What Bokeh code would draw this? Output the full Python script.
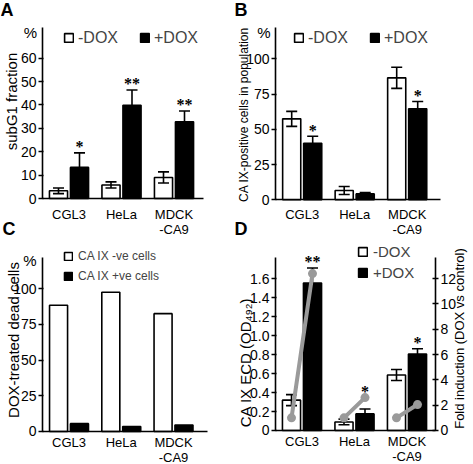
import math
from bokeh.plotting import figure
from bokeh.models import (ColumnDataSource, Range1d, LinearAxis, FixedTicker, CustomJSTickFormatter,
                          Legend, LegendItem, Label)
from bokeh.layouts import column, row
from bokeh.transform import dodge
from bokeh.embed import file_html
from bokeh.resources import INLINE

FONT = "Liberation Sans"

# ---------------- data ----------------
cells = ["CGL3", "HeLa", "MDCK\n-CA9"]
cell_idx = [0, 1, 2]

# A: subG1 fraction (%)
a_minus = [3.3, 5.8, 9.0]
a_minus_err = [1.2, 1.3, 2.4]
a_plus = [13.3, 39.8, 32.8]
a_plus_err = [6.2, 6.6, 4.6]
a_sig = ["*", "**", "**"]
a_yticks = [0, 10, 20, 30, 40, 50, 60]

# B: CA IX-positive cells in population (%)
b_minus = [57.4, 6.6, 86.5]
b_minus_err = [5.3, 2.8, 7.5]
b_plus = [40.1, 4.2, 64.5]
b_plus_err = [5.0, 1.0, 5.2]
b_sig = ["*", "", "*"]
bc_yticks = [0, 25, 50, 75, 100]

# C: DOX-treated dead cells (%)
c_neg = [88.3, 97.4, 82.4]
c_pos = [5.5, 3.5, 4.5]

# D: CA IX ECD (OD492) and fold induction
d_minus = [0.32, 0.09, 0.585]
d_minus_err = [0.058, 0.03, 0.058]
d_plus = [1.555, 0.175, 0.805]
d_plus_err = [0.158, 0.052, 0.057]
d_ctrl_fold = [1.0, 1.0, 1.0]
d_fold = [12.4, 2.6, 2.05]
d_sig = ["**", "*", "*"]
d_left_ticks = [0, 0.2, 0.4, 0.6, 0.8, 1.0, 1.2, 1.4, 1.6]
d_right_ticks = [0, 2, 4, 6, 8, 10, 12]
FOLD_SCALE = 7.5  # right axis units per left axis unit

OFF = 0.2      # half distance between paired bars (category units)
BW = 0.345     # bar width
CAP = 0.105    # half width of error-bar caps
GRAY = "#9a9a9a"
LW = 1.6


def base_fig(W, H, xr, yr, yax_x, y_top, x_end, yticks, cat_standoff):
    p = figure(width=W, height=H, x_range=Range1d(*xr), y_range=Range1d(*yr),
               output_backend="svg", toolbar_location=None, tools="",
               min_border_left=0, min_border_right=0, min_border_top=0, min_border_bottom=0)
    p.grid.visible = False
    p.outline_line_color = None
    xa = p.xaxis[0]
    xa.fixed_location = 0
    xa.bounds = (yax_x, x_end)
    xa.ticker = FixedTicker(ticks=cell_idx)
    xa.formatter = CustomJSTickFormatter(args=dict(labels=cells), code="return labels[Math.round(tick)]")
    xa.major_tick_line_color = None
    xa.minor_tick_line_color = None
    xa.axis_line_width = LW
    xa.major_label_text_font = FONT
    xa.major_label_text_font_size = "13px"
    xa.major_label_text_line_height = 1.0
    xa.major_label_standoff = cat_standoff
    xa.major_label_text_color = "black"
    ya = p.yaxis[0]
    ya.fixed_location = yax_x
    ya.bounds = (0, y_top)
    ya.ticker = FixedTicker(ticks=yticks)
    ya.minor_tick_line_color = None
    ya.major_tick_out = 4
    ya.major_tick_in = 1
    ya.major_tick_line_width = 1.5
    ya.axis_line_width = LW
    ya.major_label_text_font = FONT
    ya.major_label_text_font_size = "14px"
    ya.major_label_standoff = 2
    ya.major_label_text_color = "black"
    return p


def add_text(p, cx, cy, text, size, angle=0.0, align="left", baseline="top", bold=False):
    p.add_layout(Label(x=cx, y=cy, x_units="canvas", y_units="canvas", text=text, angle=angle,
                       text_align=align, text_baseline=baseline, text_font=FONT,
                       text_font_size=f"{size}px", text_font_style="bold" if bold else "normal",
                       text_color="black"))


def add_legend(p, items, lx, ly, orientation, font_size, glyph, standoff, spacing, label_h):
    leg = Legend(items=[LegendItem(label=t, renderers=[r]) for t, r in items],
                 orientation=orientation, location=(lx, ly), padding=0, margin=0,
                 spacing=spacing, glyph_width=glyph, glyph_height=glyph,
                 label_standoff=standoff, label_height=label_h,
                 label_text_font=FONT, label_text_font_size=f"{font_size}px",
                 border_line_color=None, background_fill_alpha=0)
    p.add_layout(leg)


def error_bars(p, src, shift, lo, hi):
    p.segment(x0=dodge("idx", shift), y0=lo, x1=dodge("idx", shift), y1=hi, source=src,
              line_color="black", line_width=LW)
    for end in (lo, hi):
        p.segment(x0=dodge("idx", shift - CAP), y0=end, x1=dodge("idx", shift + CAP), y1=end,
                  source=src, line_color="black", line_width=LW)


def paired_bars(p, minus, minus_err, plus, plus_err):
    src = ColumnDataSource(dict(
        idx=cell_idx, minus=minus, plus=plus,
        m_lo=[v - e for v, e in zip(minus, minus_err)], m_hi=[v + e for v, e in zip(minus, minus_err)],
        p_lo=[v - e for v, e in zip(plus, plus_err)], p_hi=[v + e for v, e in zip(plus, plus_err)]))
    r1 = p.vbar(x=dodge("idx", -OFF), top="minus", width=BW, source=src,
                fill_color="white", line_color="black", line_width=LW)
    r2 = p.vbar(x=dodge("idx", OFF), top="plus", width=BW, source=src,
                fill_color="black", line_color="black", line_width=LW)
    error_bars(p, src, -OFF, "m_lo", "m_hi")
    error_bars(p, src, OFF, "p_lo", "p_hi")
    return r1, r2


def stars(p, ys, sig):
    s = ColumnDataSource(dict(idx=cell_idx, y=ys, sig=sig))
    p.text(x=dodge("idx", OFF), y="y", text="sig", source=s, text_align="center",
           text_baseline="middle", y_offset=-6, text_font=FONT, text_font_size="16px",
           text_font_style="bold", text_color="black")


# ---------------- Panel A (canvas 0..234 x 0..238) ----------------
pA = base_fig(234, 238, (-1.3048, 3.1524), (-17.09, 84.615), -0.5048, 73.1, 2.562, a_yticks, 2)
a1, a2 = paired_bars(pA, a_minus, a_minus_err, a_plus, a_plus_err)
stars(pA, [v + e for v, e in zip(a_plus, a_plus_err)], a_sig)
add_legend(pA, [("-DOX", a1), ("+DOX", a2)], 63, 190.5, "horizontal", 16, 11, 4, 21, 20)
add_text(pA, 30, 32, "%", 15, align="center", baseline="middle")
add_text(pA, 11, 101, "subG1 fraction", 15, angle=math.pi / 2, align="center", baseline="middle")
add_text(pA, 0, -1, "A", 18, bold=True)
add_text(pA, 2, 238, "C", 18, baseline="bottom", bold=True)

# ---------------- Panel B (canvas 234..473 x 0..238) ----------------
pB = base_fig(239, 238, (-1.2895, 3.2629), (-27.45, 141.35), -0.5086, 122.2, 2.634, bc_yticks, 1)
b1, b2 = paired_bars(pB, b_minus, b_minus_err, b_plus, b_plus_err)
stars(pB, [v + e for v, e in zip(b_plus, b_plus_err)], b_sig)
add_legend(pB, [("-DOX", b1), ("+DOX", b2)], 59, 190.5, "horizontal", 16, 11, 4, 21, 20)
add_text(pB, 29.5, 32, "%", 15, align="center", baseline="middle")
add_text(pB, 9, 114, "CA IX-positive cells in population", 12, angle=math.pi / 2, align="center", baseline="middle")
add_text(pB, 0, -1, "B", 18, bold=True)
add_text(pB, 0, 238, "D", 18, baseline="bottom", bold=True)

# ---------------- Panel C (canvas 0..234 x 238..464) ----------------
pC = base_fig(234, 226, (-1.311, 3.167), (-23.08, 134.97), -0.507, 121.7, 2.651, bc_yticks, -2)
srcC = ColumnDataSource(dict(idx=cell_idx, neg=c_neg, pos=c_pos))
c1 = pC.vbar(x=dodge("idx", -OFF), top="neg", width=BW, source=srcC,
             fill_color="white", line_color="black", line_width=LW)
c2 = pC.vbar(x=dodge("idx", OFF), top="pos", width=BW, source=srcC,
             fill_color="black", line_color="black", line_width=LW)
add_legend(pC, [("CA IX -ve cells", c1), ("CA IX +ve cells", c2)], 63, 180.5, "vertical", 12, 10, 5, 4, 16)
add_text(pC, 29.5, 22, "%", 15, align="center", baseline="middle")
add_text(pC, 12.5, 101.5, "DOX-treated dead cells", 15, angle=math.pi / 2, align="center", baseline="middle")

# ---------------- Panel D (canvas 234..473 x 238..464) ----------------
d_lo, d_hi = -0.3583, 2.0232
pD = base_fig(239, 226, (-1.2857, 3.2667), (d_lo, d_hi), -0.5048, 1.823, 2.543, d_left_ticks, -2)
pD.yaxis[0].formatter = CustomJSTickFormatter(code="return tick == 0 ? '0' : tick.toFixed(1)")
pD.extra_y_ranges = {"fold": Range1d(d_lo * FOLD_SCALE, d_hi * FOLD_SCALE)}
rax = LinearAxis(y_range_name="fold", ticker=FixedTicker(ticks=d_right_ticks),
                 fixed_location=2.543, bounds=(0, 1.823 * FOLD_SCALE))
rax.minor_tick_line_color = None
rax.major_tick_out = 3
rax.major_tick_in = 3
rax.major_tick_line_width = 1.5
rax.axis_line_width = LW
rax.major_label_text_font = FONT
rax.major_label_text_font_size = "14px"
rax.major_label_standoff = 2
rax.major_label_text_color = "black"
pD.add_layout(rax, "right")
d1, d2 = paired_bars(pD, d_minus, d_minus_err, d_plus, d_plus_err)
foldsrc = ColumnDataSource(dict(idx=cell_idx, ctrl=d_ctrl_fold, fold=d_fold))
pD.segment(x0=dodge("idx", -OFF), y0="ctrl", x1=dodge("idx", OFF), y1="fold", source=foldsrc,
           y_range_name="fold", line_color=GRAY, line_width=4, line_cap="round")
pD.scatter(x=dodge("idx", -OFF), y="ctrl", source=foldsrc, y_range_name="fold",
           size=9, fill_color=GRAY, line_color=None)
pD.scatter(x=dodge("idx", OFF), y="fold", source=foldsrc, y_range_name="fold",
           size=9, fill_color=GRAY, line_color=None)
d_star_y = [max(v + e, f / FOLD_SCALE) for v, e, f in zip(d_plus, d_plus_err, d_fold)]
stars(pD, d_star_y, d_sig)
add_legend(pD, [("-DOX", d1), ("+DOX", d2)], 123, 183.5, "vertical", 15, 11, 5, 4, 17)
add_text(pD, 11, 124, "CA IX ECD (OD\u2084\u2089\u2082)", 15, angle=math.pi / 2, align="center", baseline="middle")
add_text(pD, 225, 100, "Fold induction (DOX vs control)", 13, angle=math.pi / 2, align="center", baseline="middle")

layout = column(row(pA, pB), row(pC, pD))
open("out.html", "w").write(file_html(layout, INLINE))
